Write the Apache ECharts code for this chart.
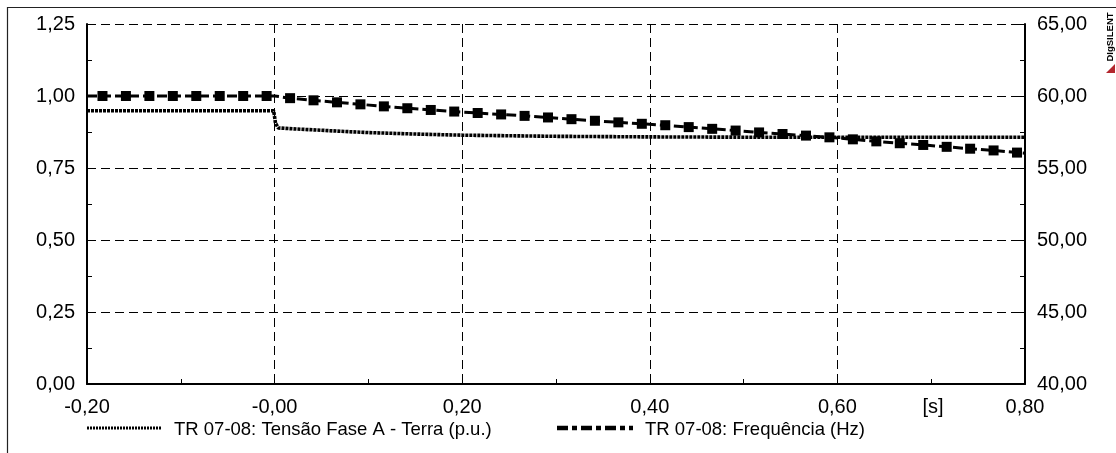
<!DOCTYPE html>
<html>
<head>
<meta charset="utf-8">
<script src="https://cdn.jsdelivr.net/npm/echarts@6/dist/echarts.min.js"></script>
<style>
html,body{margin:0;padding:0;background:#fff;}
#chart{width:1116px;height:453px;}
</style>
</head>
<body>
<div id="chart"></div>
<script>
// ---- data ----
const xTickLabels = ['-0,20', '-0,00', '0,20', '0,40', '0,60', '0,80'];
const yLeftTickLabels = ['0,00', '0,25', '0,50', '0,75', '1,00', '1,25'];
const yRightTickLabels = ['40,00', '45,00', '50,00', '55,00', '60,00', '65,00'];
const xUnitLabel = '[s]';

const voltName = 'TR 07-08: Tensão Fase A - Terra (p.u.)';
const voltTime = [-0.2, -0.001, 0.001, 0.004, 0.02, 0.05, 0.08, 0.10, 0.13, 0.16, 0.20, 0.25, 0.30, 0.40, 0.50, 0.60, 0.70, 0.80];
const voltValue = [0.949, 0.949, 0.905, 0.889, 0.886, 0.881, 0.876, 0.873, 0.870, 0.867, 0.864, 0.862, 0.860, 0.858, 0.857, 0.857, 0.857, 0.857];

const freqName = 'TR 07-08: Frequência (Hz)';
const freqTime = [-0.2, -0.1835, -0.1585, -0.1335, -0.1085, -0.0835, -0.0585, -0.0335, -0.0085, 0.0,
  0.0165, 0.0415, 0.0665, 0.0915, 0.1165, 0.1415, 0.1665, 0.1915, 0.2165, 0.2415,
  0.2665, 0.2915, 0.3165, 0.3415, 0.3665, 0.3915, 0.4165, 0.4415, 0.4665, 0.4915,
  0.5165, 0.5415, 0.5665, 0.5915, 0.6165, 0.6415, 0.6665, 0.6915, 0.7165, 0.7415,
  0.7665, 0.7915, 0.8];
const freqValue = [60, 60, 60, 60, 60, 60, 60, 60, 60, 60,
  59.85, 59.70, 59.56, 59.42, 59.28, 59.15, 59.03, 58.92, 58.82, 58.72,
  58.62, 58.51, 58.39, 58.28, 58.17, 58.07, 57.97, 57.84, 57.72, 57.60,
  57.47, 57.36, 57.25, 57.13, 56.99, 56.85, 56.72, 56.60, 56.47, 56.34,
  56.22, 56.07, 56.02];
const freqUnmarkedTimes = [-0.2, 0.0, 0.8];

// ---- chart ----
const FONT = '"Liberation Sans", Arial, sans-serif';
const chart = echarts.init(document.getElementById('chart'), null, {renderer: 'canvas'});

const voltData = voltTime.map((t, i) => [t, voltValue[i]]);
const freqData = freqTime.map((t, i) => freqUnmarkedTimes.includes(t)
  ? {value: [t, freqValue[i]], symbol: 'none'}
  : {value: [t, freqValue[i]]});

const gridDash = {color: '#000', width: 1, type: [9, 5]};
const voltLine = {color: '#000', width: 3.6, type: [3, 1]};
const freqLine = {color: '#000', width: 3, type: [10, 4]};

function axisCommon() {
  return {
    axisLine: {show: true, onZero: false, lineStyle: {color: '#000', width: 2}},
    axisTick: {show: true, inside: true, length: 5, lineStyle: {color: '#000', width: 1}},
    minorTick: {show: true, splitNumber: 2, length: 5, lineStyle: {color: '#000', width: 1}}
  };
}

const option = {
  animation: false,
  backgroundColor: '#fff',
  grid: {left: 87, right: 91, top: 24, bottom: 69, containLabel: false},
  xAxis: Object.assign(axisCommon(), {
    type: 'value', min: -0.2, max: 0.8, interval: 0.2,
    splitLine: {show: true, lineStyle: gridDash},
    axisLabel: {margin: 13, color: '#000', fontSize: 20, fontFamily: FONT,
      formatter: (v, i) => xTickLabels[i]}
  }),
  yAxis: [Object.assign(axisCommon(), {
    type: 'value', min: 0, max: 1.25, interval: 0.25, position: 'left',
    splitLine: {show: true, lineStyle: gridDash},
    axisLabel: {margin: 12, color: '#000', fontSize: 20, fontFamily: FONT,
      formatter: (v, i) => yLeftTickLabels[i]}
  }), Object.assign(axisCommon(), {
    type: 'value', min: 40, max: 65, interval: 5, position: 'right',
    splitLine: {show: false},
    axisLabel: {margin: 12, color: '#000', fontSize: 20, fontFamily: FONT,
      formatter: (v, i) => yRightTickLabels[i]}
  })],
  series: [{
    name: voltName, type: 'line', yAxisIndex: 0,
    data: voltData, showSymbol: false, symbol: 'none',
    lineStyle: voltLine, itemStyle: {color: '#000'}, z: 3
  }, {
    name: freqName, type: 'line', yAxisIndex: 1,
    data: freqData, showSymbol: true, symbol: 'rect', symbolSize: 10,
    lineStyle: freqLine, itemStyle: {color: '#000'}, z: 4
  }],
  graphic: [
    {type: 'polyline', silent: true, shape: {points: [[7.5, 453], [7.5, 7.5], [1116, 7.5]]},
     style: {stroke: '#222', lineWidth: 1.2, fill: null}},
    {type: 'text', x: 933, y: 407, silent: true,
     style: {text: xUnitLabel, fill: '#000', font: '20px ' + FONT, align: 'center', verticalAlign: 'middle'}},
    {type: 'text', x: 1110, y: 37, rotation: Math.PI / 2, silent: true,
     style: {text: 'DIgSILENT', fill: '#000', font: 'bold 9.5px ' + FONT, align: 'center', verticalAlign: 'middle'}},
    {type: 'polygon', silent: true, shape: {points: [[1115, 64], [1115, 73], [1106, 73]]},
     style: {fill: '#b3262d'}},
    // legend
    {type: 'line', silent: true, shape: {x1: 87, y1: 428, x2: 162, y2: 428},
     style: {stroke: '#000', lineWidth: 3, lineDash: [2, 1]}},
    {type: 'text', x: 174, y: 430, silent: true,
     style: {text: voltName, fill: '#000', font: '18.5px ' + FONT, align: 'left', verticalAlign: 'middle'}},
    {type: 'line', silent: true, shape: {x1: 557, y1: 428, x2: 633, y2: 428},
     style: {stroke: '#000', lineWidth: 4.5, lineDash: [11, 4, 5, 4]}},
    {type: 'text', x: 645, y: 430, silent: true,
     style: {text: freqName, fill: '#000', font: '18.5px ' + FONT, align: 'left', verticalAlign: 'middle'}}
  ]
};
chart.setOption(option);
</script>
</body>
</html>
